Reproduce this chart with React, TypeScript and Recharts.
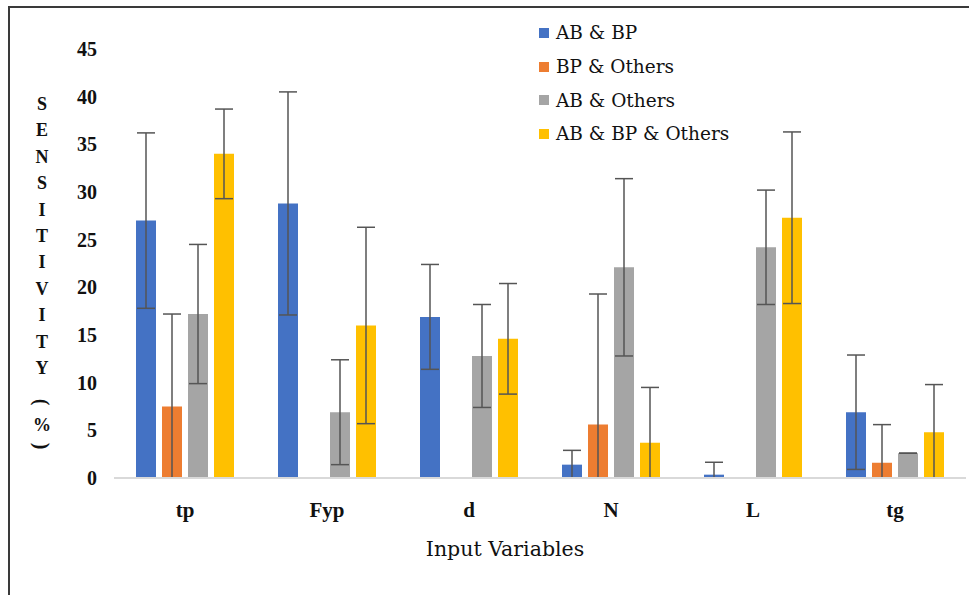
import { BarChart, Bar, XAxis, YAxis, ErrorBar, Legend } from "recharts";

const FONT = "serif";
const FONT_REG = "DejaVu Serif, serif";

const categories = ["tp", "Fyp", "d", "N", "L", "tg"];

const abBp = [27, 28.8, 16.9, 1.4, 0.35, 6.9];
const abBpErr = [9.2, 11.7, 5.5, 1.5, 1.3, 6];

const bpOthers = [7.5, null, null, 5.6, null, 1.6];
const bpOthersErr = [9.7, null, null, 13.7, null, 4];

const abOthers = [17.2, 6.9, 12.8, 22.1, 24.2, 2.6];
const abOthersErr = [7.3, 5.5, 5.4, 9.3, 6, 0];

const abBpOthers = [34, 16, 14.6, 3.7, 27.3, 4.8];
const abBpOthersErr = [4.7, 10.3, 5.8, 5.8, 9, 5];

const yTicks = [0, 5, 10, 15, 20, 25, 30, 35, 40, 45];

const SERIES = [
  { key: "abBp", name: "AB & BP", color: "#4472C4", values: abBp, errors: abBpErr },
  { key: "bpOthers", name: "BP & Others", color: "#ED7D31", values: bpOthers, errors: bpOthersErr },
  { key: "abOthers", name: "AB & Others", color: "#A5A5A5", values: abOthers, errors: abOthersErr },
  { key: "abBpOthers", name: "AB & BP & Others", color: "#FFC000", values: abBpOthers, errors: abBpOthersErr },
];

// error bars are cut off at the axis (min 0), like the original
const data = categories.map((name, i) => {
  const row: Record<string, any> = { name };
  SERIES.forEach((s) => {
    const v = s.values[i];
    const e = s.errors[i];
    row[s.key] = v;
    row[s.key + "Err"] = v == null || e == null ? null : [Math.min(v, e), e];
  });
  return row;
});

function LegendBox() {
  return (
    <div style={{ fontFamily: FONT_REG, fontSize: 18.5, color: "#111" }}>
      {SERIES.map((s) => (
        <div key={s.key} style={{ display: "flex", alignItems: "center", height: 33.7 }}>
          <span style={{ width: 10, height: 10, background: s.color, marginRight: 7 }} />
          <span>{s.name}</span>
        </div>
      ))}
    </div>
  );
}

function YTitle() {
  const letters = "SENSITIVITY".split("");
  return (
    <g fontFamily={FONT} fontWeight={700} fontSize={18} fill="#111" textAnchor="middle">
      {letters.map((c, i) => (
        <text key={i} x={42} y={110 + i * 26.4}>
          {c}
        </text>
      ))}
      <text x={42} y={402} fontSize={20} transform="rotate(90 42 402)" dominantBaseline="central">
        (
      </text>
      <text x={42} y={431}>%</text>
      <text x={42} y={446} fontSize={20} transform="rotate(90 42 446)" dominantBaseline="central">
        )
      </text>
    </g>
  );
}

function XTitle() {
  return (
    <text x={505} y={556} textAnchor="middle" fontFamily={FONT_REG} fontSize={20.5} fill="#111">
      Input Variables
    </text>
  );
}

export default function App() {
  return (
    <div style={{ position: "absolute", left: 0, top: 0, width: 969, height: 595, overflow: "hidden", background: "#fff" }}>
      <div
        style={{
          position: "absolute",
          left: 8,
          top: 6,
          width: 1200,
          height: 800,
          borderTop: "2px solid #3a3a3a",
          borderLeft: "2px solid #3a3a3a",
        }}
      />
      <BarChart
        width={969}
        height={595}
        data={data}
        margin={{ top: 49, right: 3, bottom: 57, left: 0 }}
        barSize={20}
        barGap={6}
        style={{ position: "absolute", left: 0, top: 0 }}
      >
        <XAxis
          dataKey="name"
          height={60}
          tickLine={false}
          tickSize={6}
          tickMargin={18}
          axisLine={{ stroke: "#d9d9d9", strokeWidth: 2 }}
          tick={{ fontFamily: FONT, fontWeight: 700, fontSize: 21, fill: "#111" }}
          label={{ content: () => <XTitle /> }}
        />
        <YAxis
          width={114}
          domain={[0, 45]}
          ticks={yTicks}
          interval={0}
          tickLine={false}
          axisLine={false}
          tickSize={6}
          tickMargin={11}
          tick={{ fontFamily: FONT, fontWeight: 700, fontSize: 20, fill: "#111" }}
          label={{ content: () => <YTitle /> }}
        />
        <Legend
          layout="vertical"
          align="center"
          verticalAlign="middle"
          content={() => <LegendBox />}
          wrapperStyle={{ position: "absolute", left: 539, top: 16, width: 260 }}
        />
        {SERIES.map((s) => (
          <Bar key={s.key} dataKey={s.key} name={s.name} fill={s.color} isAnimationActive={false}>
            <ErrorBar
              dataKey={s.key + "Err"}
              direction="y"
              width={9}
              stroke="#555"
              strokeWidth={1.5}
              isAnimationActive={false}
            />
          </Bar>
        ))}
      </BarChart>
    </div>
  );
}
